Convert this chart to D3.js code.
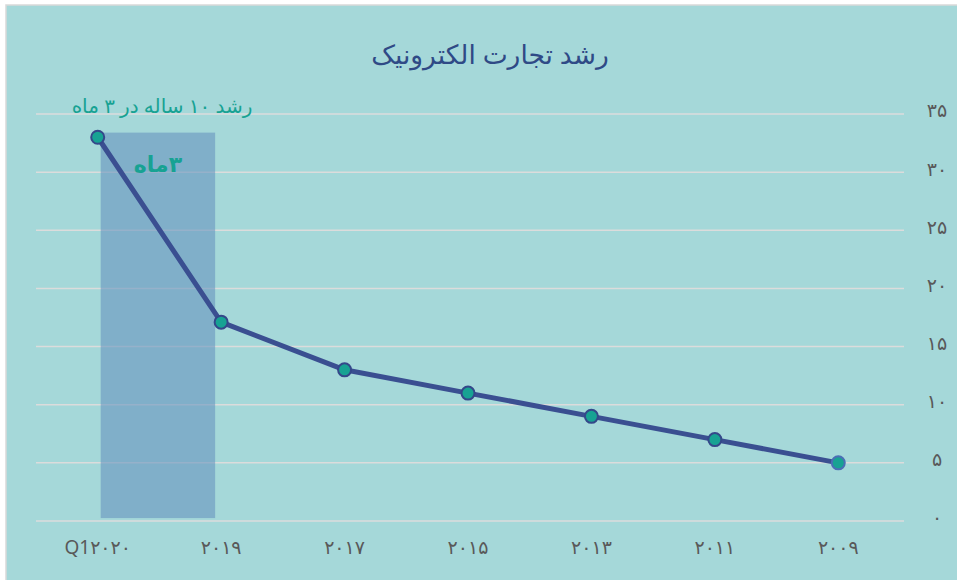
<!DOCTYPE html>
<html>
<head>
<meta charset="utf-8">
<script src="https://cdn.jsdelivr.net/npm/d3@7"></script>
<style>
  body { margin: 0; background: #fff; }
  text { font-family: "Noto Sans", "DejaVu Sans", sans-serif; }
</style>
</head>
<body>
<div id="chart"></div>
<script>
// Data (right-to-left: newest on the left)
const categories = ["Q1۲۰۲۰", "۲۰۱۹", "۲۰۱۷", "۲۰۱۵", "۲۰۱۳", "۲۰۱۱", "۲۰۰۹"];
const values = [33, 17.1, 13, 11, 9, 7, 5];
const yTicks = [0, 5, 10, 15, 20, 25, 30, 35];
const yTickLabels = ["۰", "۵", "۱۰", "۱۵", "۲۰", "۲۵", "۳۰", "۳۵"];
const titleText = "رشد تجارت الکترونیک";
const noteText = "رشد ۱۰ ساله در ۳ ماه";
const bandLabel = "۳ماه";
const bandRange = [0.25, 33.4]; // shaded range in value units

const W = 957, H = 580;
const margin = { top: 114, right: 57, bottom: 59, left: 36 };
const width = W - margin.left - margin.right;
const height = H - margin.top - margin.bottom;

const svg = d3.select("#chart")
    .append("svg")
    .attr("width", W)
    .attr("height", H);

// Background + border
svg.append("rect")
    .attr("x", 6).attr("y", 5)
    .attr("width", W).attr("height", H)
    .attr("fill", "#a5d8d9")
    .attr("stroke", "#d9d9d9")
    .attr("stroke-width", 1.5);

const g = svg.append("g")
    .attr("transform", `translate(${margin.left}, ${margin.top})`);

// Scales
const x = d3.scaleBand().domain(categories).range([0, width]);
const y = d3.scaleLinear().domain([0, 35]).range([height, 0]);
const cx = d => x(d) + x.bandwidth() / 2;

// Gridlines
g.selectAll(".grid")
    .data(yTicks)
    .enter()
    .append("line")
    .attr("x1", 0).attr("x2", width + 4)
    .attr("y1", d => y(d)).attr("y2", d => y(d))
    .attr("stroke", "#dcdcdc")
    .attr("stroke-width", 1.5);

// Shaded band over the first period
g.append("rect")
    .attr("x", cx(categories[0]) + 3)
    .attr("y", y(bandRange[1]))
    .attr("width", cx(categories[1]) - cx(categories[0]) - 9)
    .attr("height", y(bandRange[0]) - y(bandRange[1]))
    .attr("fill", "#6795be")
    .attr("opacity", 0.6);

// Y axis on the right
const yAxis = g.append("g")
    .attr("transform", `translate(${width}, 0)`)
    .call(d3.axisRight(y).tickValues(yTicks).tickSize(0).tickPadding(28)
        .tickFormat((d, i) => yTickLabels[i]));
yAxis.select(".domain").remove();
yAxis.selectAll("text")
    .attr("fill", "#595959")
    .style("font-size", "19px")
    .attr("text-anchor", "middle")
    .attr("dx", "9")
    .attr("dy", "0.15em");

// X axis
const xAxis = g.append("g")
    .attr("transform", `translate(0, ${height})`)
    .call(d3.axisBottom(x).tickSize(0).tickPadding(20));
xAxis.select(".domain").remove();
xAxis.selectAll("text")
    .attr("fill", "#595959")
    .style("font-size", "19px");

// Line
const line = d3.line()
    .x((d, i) => cx(categories[i]))
    .y(d => y(d));

g.append("path")
    .datum(values)
    .attr("fill", "none")
    .attr("stroke", "#3a4f91")
    .attr("stroke-width", 5)
    .attr("stroke-linejoin", "round")
    .attr("d", line);

// Markers
g.selectAll(".dot")
    .data(values)
    .enter()
    .append("circle")
    .attr("cx", (d, i) => cx(categories[i]))
    .attr("cy", d => y(d))
    .attr("r", 6.5)
    .attr("fill", "#17a293")
    .attr("stroke", (d, i) => i === values.length - 1 ? "#4a6fb5" : "#34488a")
    .attr("stroke-width", 2);

// Title
svg.append("text")
    .attr("x", 490).attr("y", 64)
    .attr("text-anchor", "middle")
    .attr("fill", "#2f4a86")
    .style("font-size", "26.5px")
    .text(titleText);

// Annotation above the first point
svg.append("text")
    .attr("x", 162).attr("y", 113)
    .attr("text-anchor", "middle")
    .attr("direction", "rtl")
    .attr("fill", "#17a293")
    .style("font-size", "20px")
    .text(noteText);

// Band label
svg.append("text")
    .attr("x", 158).attr("y", 172)
    .attr("text-anchor", "middle")
    .attr("direction", "rtl")
    .attr("fill", "#17a293")
    .style("font-size", "22px")
    .style("font-weight", "bold")
    .text(bandLabel);
</script>
</body>
</html>
